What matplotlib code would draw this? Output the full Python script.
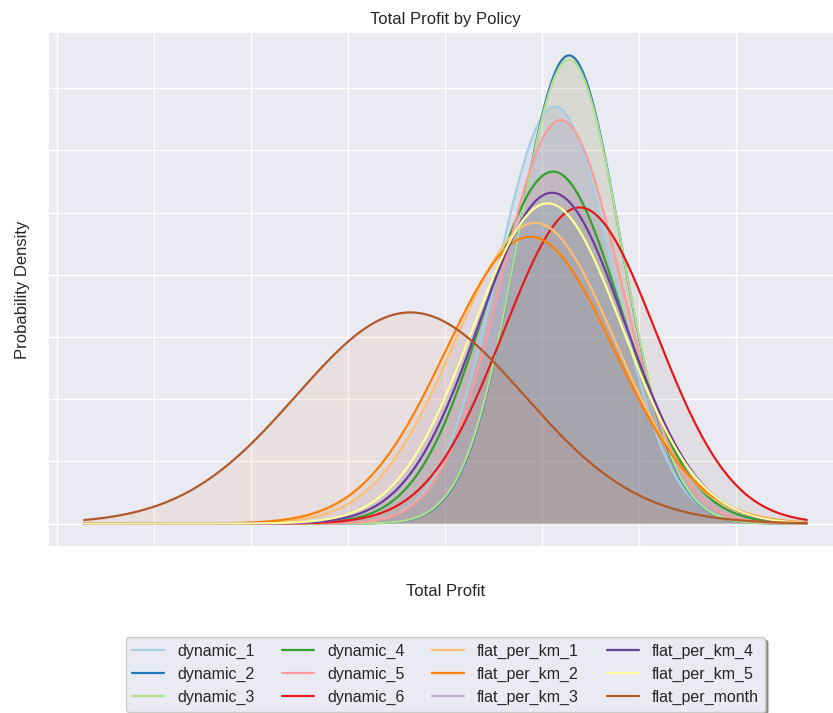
import numpy as np
import matplotlib
matplotlib.use("Agg")
import matplotlib.pyplot as plt
import matplotlib.ticker as ticker
import seaborn as sns

# per-policy profit distribution (normal fit): mean and standard deviation
policies = [
    "dynamic_1", "dynamic_2", "dynamic_3", "dynamic_4", "dynamic_5", "dynamic_6",
    "flat_per_km_1", "flat_per_km_2", "flat_per_km_3", "flat_per_km_4",
    "flat_per_km_5", "flat_per_month",
]
profit_mean = [2260, 2550, 2550, 2220, 2380, 2770, 1850, 1750, 2200, 2200, 2110, -720]
profit_std = [1190, 1060, 1070, 1410, 1230, 1570, 1650, 1730, 1500, 1500, 1550, 2350]

# observed profit range across all policies
profit_min, profit_max = -7440, 7450

sns.set_theme(style="darkgrid")
plt.rcParams["font.family"] = ["Liberation Sans", "DejaVu Sans"]

colors = sns.color_palette("Paired", len(policies))
x = np.linspace(profit_min, profit_max, 500)

fig = plt.figure(figsize=(8.33, 7.13), dpi=100)
ax = fig.add_axes([48 / 833, 1 - 547 / 713, 795 / 833, 515 / 713])

for name, mu, sd, c in zip(policies, profit_mean, profit_std, colors):
    pdf = np.exp(-0.5 * ((x - mu) / sd) ** 2) / (sd * np.sqrt(2 * np.pi))
    ax.plot(x, pdf, color=c, lw=1.6, label=name)
    # shading takes the next colour of the default fill cycle
    ax.fill_between(x, pdf, alpha=0.1)

ax.xaxis.set_major_locator(ticker.MultipleLocator(2000))
ax.yaxis.set_major_locator(ticker.MultipleLocator(5e-5))
ax.tick_params(labelleft=False, labelbottom=False)

ax.set_title("Total Profit by Policy", fontsize=12)
ax.set_xlabel("Total Profit", fontsize=12, labelpad=27)
ax.set_ylabel("Probability Density", fontsize=12, labelpad=13)

ax.legend(loc="upper center", bbox_to_anchor=(0.5, -0.160), ncol=4,
          fontsize=11.5, columnspacing=1.75, frameon=True, shadow=True)

fig.savefig("out.png", dpi=100)
